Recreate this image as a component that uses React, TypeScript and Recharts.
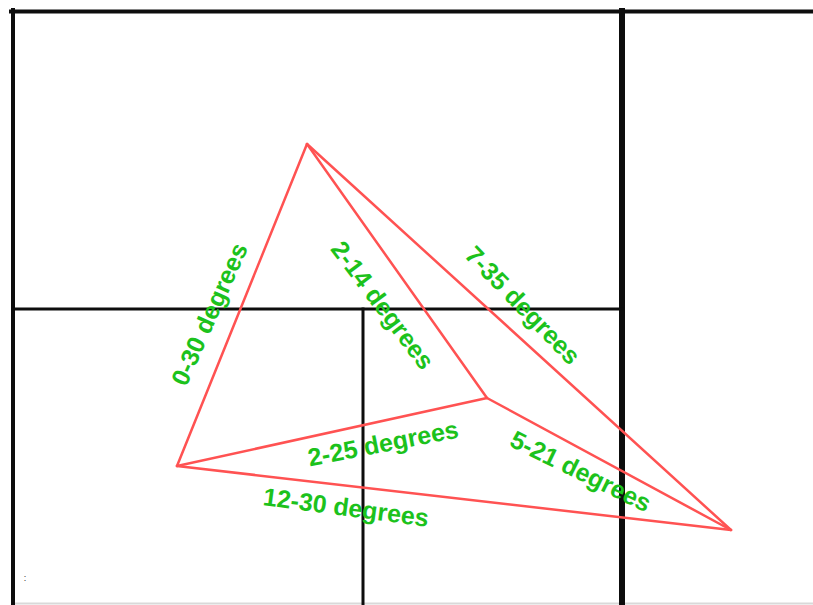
import { ScatterChart, XAxis, YAxis, ReferenceLine, Scatter } from 'recharts';

// frame / grid lines: [x1, y1, x2, y2, width]
const frameLines = [
  [11, 11.5, 813, 11.5, 4],
  [13, 10, 13, 605, 4],
  [622, 11, 622, 605, 6],
  [13, 309, 622, 309, 3],
  [363, 309, 363, 605, 3],
];

// vertices of the red figure
const vertices = {
  A: { x: 307, y: 144 },
  B: { x: 177, y: 466 },
  C: { x: 487, y: 398 },
  D: { x: 731, y: 530 },
};
const edges: [keyof typeof vertices, keyof typeof vertices][] = [
  ['A', 'B'],
  ['A', 'C'],
  ['A', 'D'],
  ['B', 'C'],
  ['B', 'D'],
  ['C', 'D'],
];

const labels = [
  { x: 209, y: 314, text: '0-30 degrees', angle: -66 },
  { x: 383, y: 305, text: '2-14 degrees', angle: 53 },
  { x: 523, y: 305, text: '7-35 degrees', angle: 46 },
  { x: 383, y: 443, text: '2-25 degrees', angle: -11 },
  { x: 581, y: 471, text: '5-21 degrees', angle: 26 },
  { x: 346, y: 507, text: '12-30 degrees', angle: 7.5 },
];

const marks = [{ x: 25, y: 578, text: ':', angle: 0 }];

const GREEN = '#1cc21c';
const RED = '#ff5252';

const LabelShape = (props: any) => {
  const { cx, cy, payload } = props;
  return (
    <text
      x={cx}
      y={cy}
      transform={`rotate(${payload.angle} ${cx} ${cy})`}
      textAnchor="middle"
      dominantBaseline="central"
      fill={GREEN}
      fontFamily="Liberation Sans, Arial, sans-serif"
      fontWeight="bold"
      fontSize={25}
    >
      {payload.text}
    </text>
  );
};

const MarkShape = (props: any) => {
  const { cx, cy, payload } = props;
  return (
    <text x={cx} y={cy} textAnchor="middle" dominantBaseline="central" fill="#333" fontSize={9} fontFamily="Liberation Sans, Arial, sans-serif">
      {payload.text}
    </text>
  );
};

export default function App() {
  return (
    <div style={{ position: 'absolute', left: 0, top: 0, background: '#fff' }}>
      <ScatterChart width={813} height={605} margin={{ top: 0, right: 0, bottom: 0, left: 0 }}>
        <XAxis type="number" dataKey="x" domain={[0, 813]} hide />
        <YAxis type="number" dataKey="y" domain={[0, 605]} reversed hide />
        <ReferenceLine segment={[{ x: 14, y: 603.5 }, { x: 813, y: 603.5 }]} stroke="#d9d9d9" strokeWidth={2} />
        {frameLines.map(([x1, y1, x2, y2, w], i) => (
          <ReferenceLine
            key={`f${i}`}
            segment={[{ x: x1, y: y1 }, { x: x2, y: y2 }]}
            stroke="#0d0d0d"
            strokeWidth={w}
            strokeLinecap="square"
          />
        ))}
        {edges.map(([p, q], i) => (
          <ReferenceLine
            key={`e${i}`}
            segment={[vertices[p], vertices[q]]}
            stroke={RED}
            strokeWidth={2.5}
            strokeLinecap="round"
          />
        ))}
        <Scatter data={labels} shape={LabelShape} isAnimationActive={false} />
        <Scatter data={marks} shape={MarkShape} isAnimationActive={false} />
      </ScatterChart>
    </div>
  );
}
